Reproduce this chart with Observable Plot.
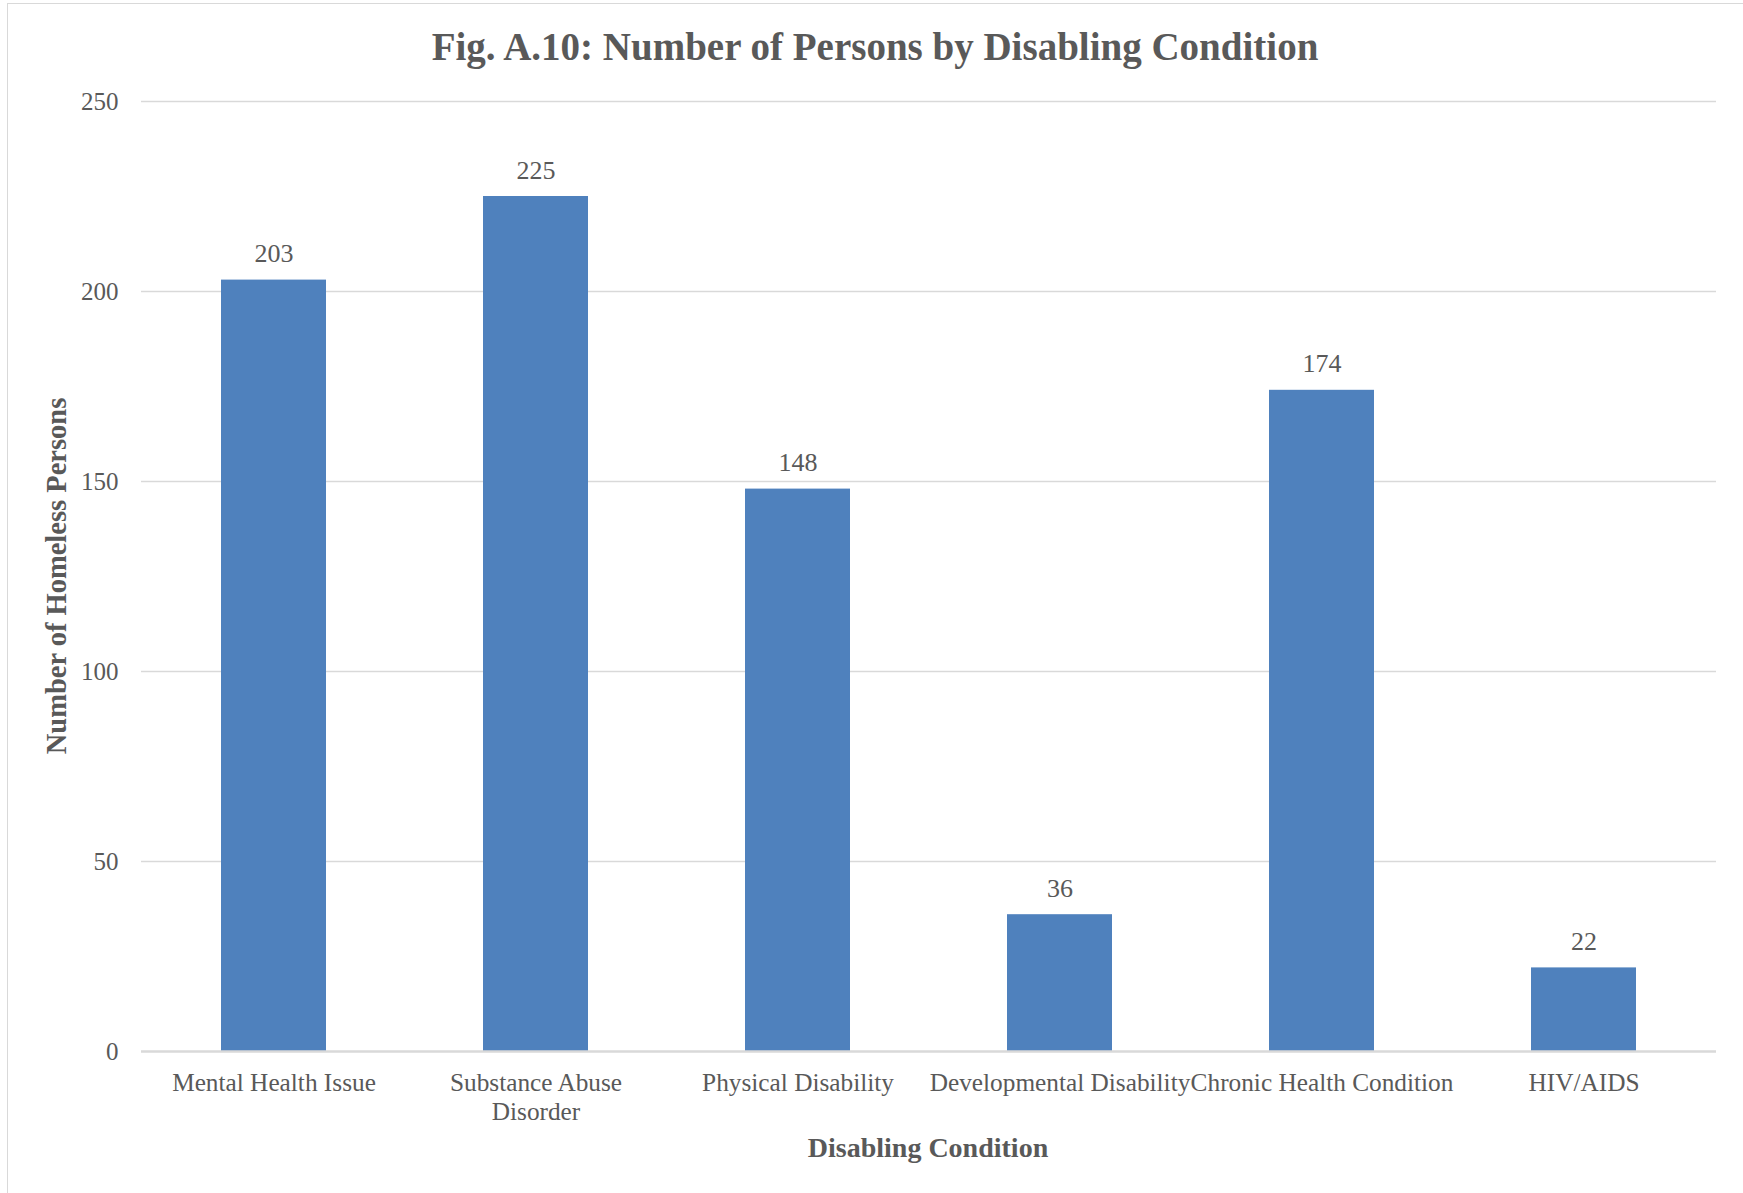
<!DOCTYPE html>
<html>
<head>
<meta charset="utf-8">
<script src="https://cdn.jsdelivr.net/npm/d3@7"></script>
<script src="https://cdn.jsdelivr.net/npm/@observablehq/plot@0.6"></script>
<style>
  html, body { margin: 0; padding: 0; background: #fff; }
  #wrap { position: relative; width: 1743px; height: 1193px; overflow: hidden; background: #fff;
          font-family: "Liberation Serif", "DejaVu Serif", serif; color: #595959; }
  #frame { position: absolute; left: 7px; top: 3px; width: 2000px; height: 1400px;
           border: 1.5px solid #d9d9d9; box-sizing: border-box; }
  #chart { position: absolute; left: 0; top: 0; }
  .t { position: absolute; white-space: nowrap; line-height: 1; font-weight: bold; }
  #title { left: 875px; top: 27px; font-size: 39px; transform: translateX(-50%); }
  #ytitle { left: 57px; top: 576px; font-size: 28.5px; transform: translate(-50%, -50%) rotate(-90deg); }
  #xtitle { left: 928px; top: 1134px; font-size: 28px; transform: translateX(-50%); }
</style>
</head>
<body>
<div id="wrap">
  <div id="frame"></div>
  <div id="chart"></div>
  <div class="t" id="title">Fig. A.10: Number of Persons by Disabling Condition</div>
  <div class="t" id="ytitle">Number of Homeless Persons</div>
  <div class="t" id="xtitle">Disabling Condition</div>
</div>
<script>
const categories = ["Mental Health Issue", "Substance Abuse Disorder", "Physical Disability",
                    "Developmental Disability", "Chronic Health Condition", "HIV/AIDS"];
const tickLabels = ["Mental Health Issue", "Substance Abuse\nDisorder", "Physical Disability",
                    "Developmental Disability", "Chronic Health Condition", "HIV/AIDS"];
const values = [203, 225, 148, 36, 174, 22];
const yTicks = [0, 50, 100, 150, 200, 250];

const data = categories.map((c, i) => ({category: c, value: values[i]}));
const textColor = "#595959";
const font = "'Liberation Serif', 'DejaVu Serif', serif";

const chart = Plot.plot({
  width: 1743,
  height: 1193,
  marginLeft: 141,
  marginRight: 27,
  marginTop: 101,
  marginBottom: 142,
  style: {fontFamily: font, color: textColor, background: "transparent"},
  x: {type: "band", domain: categories, paddingInner: 0.6, paddingOuter: 0.3, axis: null},
  y: {domain: [0, 250], ticks: yTicks, label: null},
  marks: [
    Plot.gridY(yTicks.filter(d => d > 0), {stroke: "#d9d9d9", strokeWidth: 1.6, strokeOpacity: 1}),
    Plot.barY(data, {x: "category", y: "value", fill: "#4f81bd"}),
    Plot.ruleY([0], {stroke: "#d9d9d9", strokeWidth: 2.6}),
    Plot.axisY({ticks: yTicks, tickSize: 0, tickPadding: 23, fontSize: 25, fill: textColor, label: null}),
    Plot.text(data, {x: "category", y: "value", text: d => String(d.value), lineAnchor: "bottom",
                     dy: -18, fontSize: 26, fill: textColor}),
    Plot.text(categories, {x: d => d, frameAnchor: "bottom", lineAnchor: "top", dy: 19,
                           text: (d, i) => tickLabels[i], lineHeight: 1.15, fontSize: 25.3, fill: textColor})
  ]
});
document.getElementById("chart").appendChild(chart);
</script>
</body>
</html>
